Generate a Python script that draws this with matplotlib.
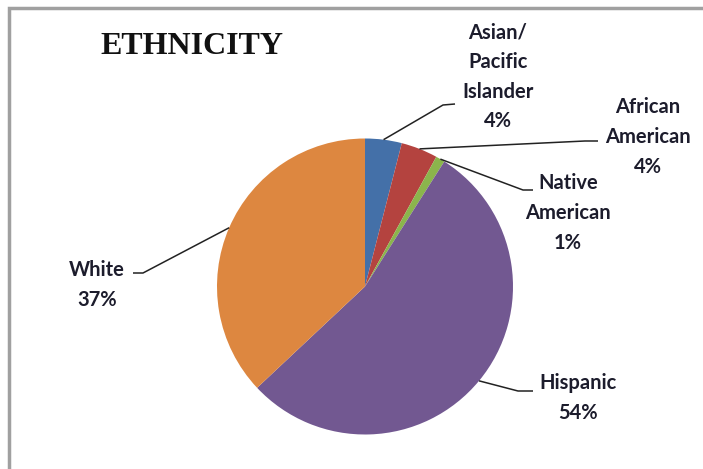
import numpy as np
import matplotlib.pyplot as plt

# ethnicity breakdown (percent)
groups = ["Asian/\nPacific\nIslander", "African\nAmerican", "Native\nAmerican", "Hispanic", "White"]
shares = [4, 4, 1, 54, 37]
colors = ["#4470A8", "#B4433F", "#8BB54C", "#725891", "#DD8740"]

W, H = 703, 469
# pie placement in pixel units (y measured from top)
cx, cy, r = 365, 286.5, 148

# label centre and leader-line path (elbow, end) for each slice, pixel units
label_xy = [(498, 77), (648, 137), (568, 213), (578, 398), (97, 285)]
leader_pts = [
    [(443, 105), (455, 104)],
    [(585, 141), (598, 141)],
    [(523, 190), (533, 190)],
    [(518, 391), (533, 391)],
    [(143, 273), (133, 273)],
]

def fy(y):
    # convert top-down pixel y to axis y
    return H - y

fig = plt.figure(figsize=(W / 100, H / 100), dpi=100)
ax = fig.add_axes([0, 0, 1, 1])

wedges, _ = ax.pie(shares, colors=colors, startangle=90, counterclock=False,
                   center=(cx, fy(cy)), radius=r, frame=True,
                   wedgeprops=dict(linewidth=0))
ax.set_xlim(0, W)
ax.set_ylim(0, H)
ax.set_aspect("equal")
ax.axis("off")

for w, name, val, (lx, ly), pts in zip(wedges, groups, shares, label_xy, leader_pts):
    mid = np.deg2rad((w.theta1 + w.theta2) / 2)
    sx = cx + r * np.cos(mid)
    sy = fy(cy) + r * np.sin(mid)
    xs = [sx] + [p[0] for p in pts]
    ys = [sy] + [fy(p[1]) for p in pts]
    ax.plot(xs, ys, color="#222222", lw=1.1, solid_capstyle="butt")
    ax.text(lx, fy(ly), f"{name}\n{val}%", ha="center", va="center",
            fontsize=14.5, fontweight="bold", family="Lato", color="#1c1c2c",
            linespacing=1.6)

ax.text(100, fy(46), "ETHNICITY", ha="left", va="center", fontsize=23,
        fontweight="bold", family="Liberation Serif", color="#111111")

# gray frame along the top and left edges
ax.plot([9, 9, W], [0, fy(8), fy(8)], color="#A0A0A0", lw=2.5, solid_joinstyle="miter")

fig.savefig("out.png", dpi=100)
